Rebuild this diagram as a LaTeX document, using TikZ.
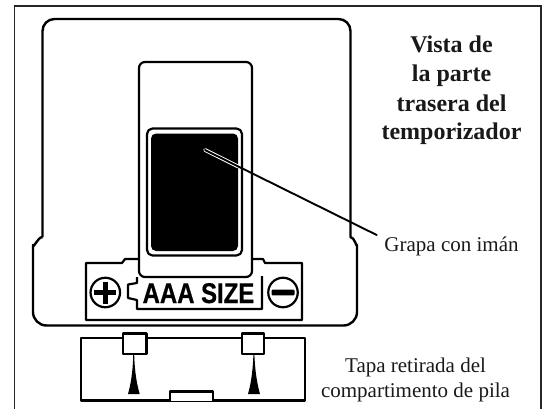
\documentclass[tikz,border=0pt]{standalone}
\usepackage{fontspec}
\setmainfont{Liberation Serif}
\newfontfamily\labelsans{Liberation Sans}
\tikzset{
  heavy/.style={draw=black,line width=2.2pt,line join=round},
  frameline/.style={draw=black!85,line width=1.1pt},
  caption/.style={align=center,inner sep=0pt,text=black!90,anchor=base},
  headline/.style={caption,font=\fontsize{24}{24}\selectfont\bfseries},
  bodytext/.style={caption,font=\fontsize{21}{24}\selectfont},
}
\begin{document}
\begin{tikzpicture}[x=1pt,y=-1pt]
\useasboundingbox (0,0) rectangle (545,409);
% frame
\draw[frameline] (14.5,409) -- (14.5,6) -- (541,6) -- (541,409);
% housing
\draw[heavy,line width=2.4pt] (42.5,237) [rounded corners=12pt] -- (42.5,19) -- (350.5,19) [rounded corners=0pt] -- (350.5,237)
  to[out=0,in=-90] (357,245) [rounded corners=13.5pt] -- (357,325.5) -- (33,325.5) [rounded corners=0pt] -- (33,245)
  to[out=-90,in=180] (42.5,237);
% battery panel
\draw[heavy,fill=white] (86,320) -- (86,263) -- (122,263) -- (125,259) -- (139,259)
  -- (252,259) -- (263,259) -- (265,263) -- (302,263) -- (302,320) -- cycle;
% label plate
\draw[heavy] (137,277) -- (137,283) -- (128,284.5) -- (128,298) -- (137,300) -- (137,309) -- (262,309) -- (262,276);
% slide
\draw[heavy,fill=white,rounded corners=6pt] (139,62) rectangle (252,277);
% clip
\draw[heavy,fill=white,rounded corners=5.5pt] (147,128.5) rectangle (242,255.5);
\fill[black,rounded corners=5pt] (151,133.5) rectangle (238,251);
% leader
\coordinate (leadstart) at (205,150);
\coordinate (leadmid) at (238,166.5);
\coordinate (leadend) at (376.7,235);
\draw[white,line width=3.8pt,line cap=round] (leadstart) -- (leadmid);
\draw[black,line width=1.9pt,line cap=round] (leadstart) -- (leadend);
% polarity
\node[circle,draw=black,line width=2.2pt,minimum size=29.5pt,inner sep=0pt,fill=white] (plus) at (105.3,292.5) {};
\node[circle,draw=black,line width=2.2pt,minimum size=29.5pt,inner sep=0pt,fill=white] (minus) at (283,292.5) {};
\fill[black] (plus.center) ++(-11,-2.2) rectangle ++(22,4.4);
\fill[black] (plus.center) ++(-2.2,-11) rectangle ++(4.4,22);
\fill[black,rounded corners=1pt] (minus.center) ++(-11.5,-2.8) rectangle ++(23,5.6);
\node[inner sep=0pt,anchor=base] (size) at (198.5,303) {\labelsans\bfseries\fontsize{28.5}{28.5}\selectfont\addfontfeature{FakeStretch=0.84,FakeBold=0.6}AAA SIZE};
% removed cover
\draw[heavy] (81,338) rectangle (305,400.5);
\draw[heavy,fill=white] (123,333.5) rectangle (146.5,354);
\draw[heavy,fill=white] (242,333.5) rectangle (264,354);
\draw[heavy,fill=white] (170,400.5) -- (170,391.5) -- (213,391.5) -- (213,400.5);
\fill[black] (128,394) .. controls (132,380) and (133,365) .. (133.2,355) -- (134.2,355) .. controls (134.5,365) and (135.5,380) .. (139.7,394) -- cycle;
\fill[black] (248,394) .. controls (252,380) and (253,365) .. (253.4,355) -- (254.4,355) .. controls (254.8,365) and (256,380) .. (260,394) -- cycle;
% texts
\node[headline] (t1) at (451.5,53) {Vista de};
\node[headline] (t2) at (451.5,82) {la parte};
\node[headline] (t3) at (451.5,111) {trasera del};
\node[headline] (t4) at (451.5,139) {temporizador};
\node[bodytext] (grapa) at (451.5,251) {Grapa con imán};
\node[bodytext] (tapa1) at (415.5,372) {Tapa retirada del};
\node[bodytext] (tapa2) at (415.5,397) {compartimento de pila};
\end{tikzpicture}
\end{document}
